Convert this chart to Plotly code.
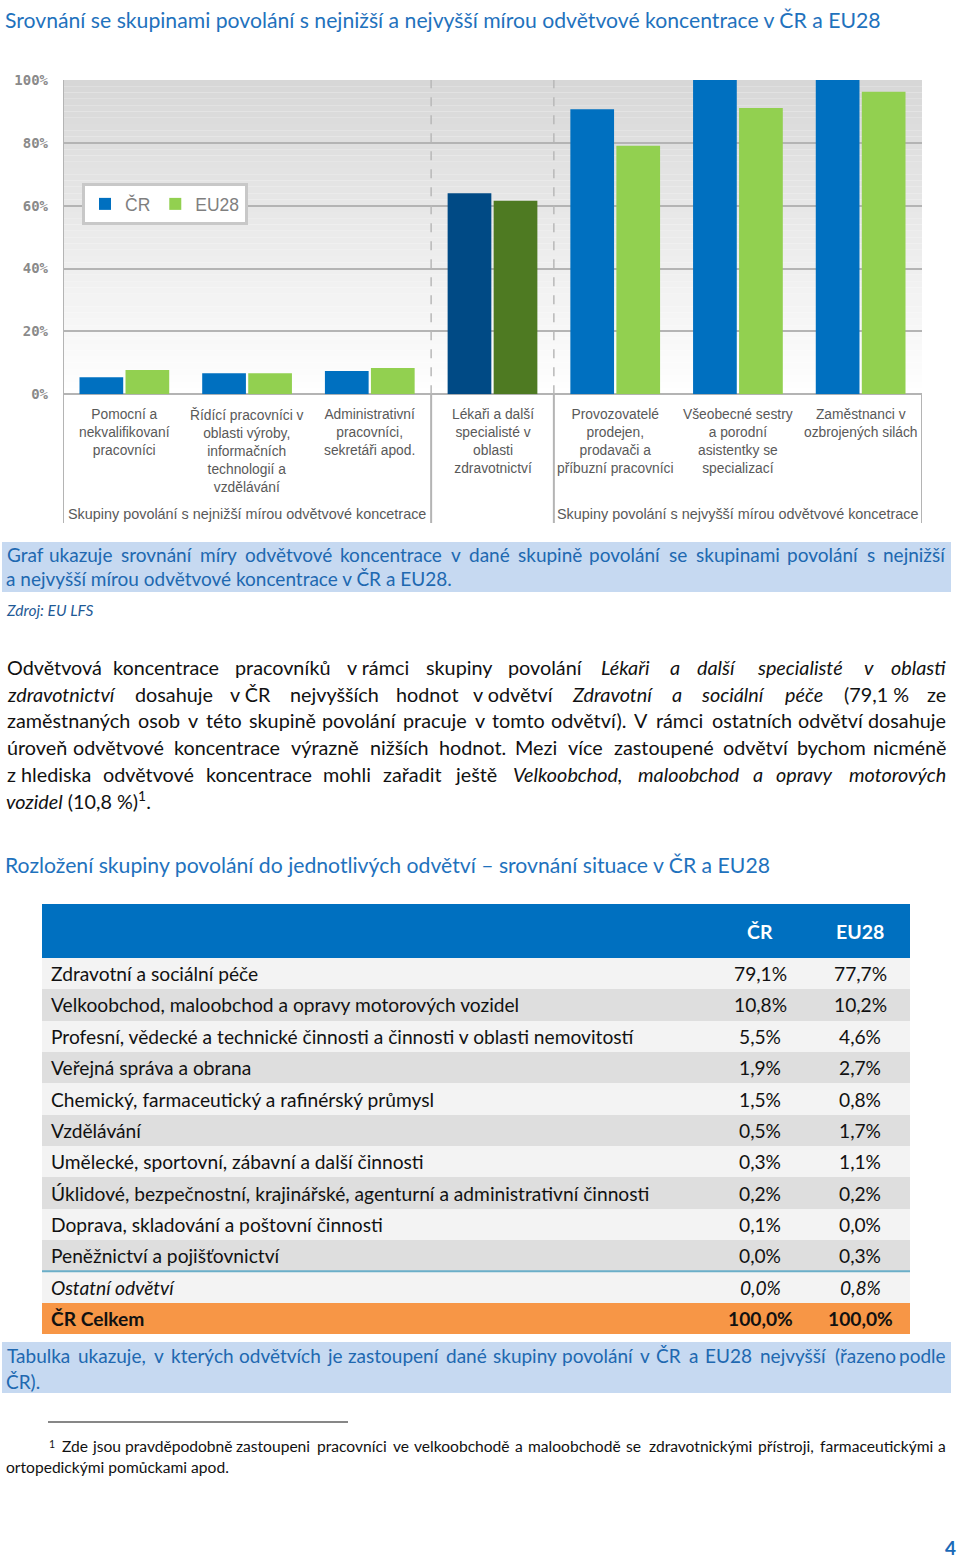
import unicodedata
import plotly.graph_objects as go

W, H = 960, 1559


def px(x):
    return x / W


def py(y):
    return 1 - y / H


# ---------------- chart data ----------------
categories = [
    "Pomocní a nekvalifikovaní pracovníci",
    "Řídící pracovníci v oblasti výroby, informačních technologií a vzdělávání",
    "Administrativní pracovníci, sekretáři apod.",
    "Lékaři a další specialisté v oblasti zdravotnictví",
    "Provozovatelé prodejen, prodavači a příbuzní pracovníci",
    "Všeobecné sestry a porodní asistentky se specializací",
    "Zaměstnanci v ozbrojených silách",
]
category_labels = [
    "Pomocní a<br>nekvalifikovaní<br>pracovníci",
    "Řídící pracovníci v<br>oblasti výroby,<br>informačních<br>technologií a<br>vzdělávání",
    "Administrativní<br>pracovníci,<br>sekretáři apod.",
    "Lékaři a další<br>specialisté v<br>oblasti<br>zdravotnictví",
    "Provozovatelé<br>prodejen,<br>prodavači a<br>příbuzní pracovníci",
    "Všeobecné sestry<br>a porodní<br>asistentky se<br>specializací",
    "Zaměstnanci v<br>ozbrojených silách",
]
cr_values = [5.4, 6.7, 7.4, 64.0, 90.7, 100.0, 100.0]
eu_values = [7.7, 6.7, 8.4, 61.6, 79.1, 91.1, 96.3]
y_ticks = [0, 20, 40, 60, 80, 100]
y_tick_labels = ["0%", "20%", "40%", "60%", "80%", "100%"]
group_labels = [
    "Skupiny povolání s nejnižší mírou odvětvové koncetrace",
    "Skupiny povolání s nejvyšší mírou odvětvové koncetrace",
]
group_centers = [1, 5]
highlight_index = 3

# ---------------- table data ----------------
sectors = [
    "Zdravotní a sociální péče",
    "Velkoobchod, maloobchod a opravy motorových vozidel",
    "Profesní, vědecké a technické činnosti a činnosti v oblasti nemovitostí",
    "Veřejná správa a obrana",
    "Chemický, farmaceutický a rafinérský průmysl",
    "Vzdělávání",
    "Umělecké, sportovní, zábavní a další činnosti",
    "Úklidové, bezpečnostní, krajinářské, agenturní a administrativní činnosti",
    "Doprava, skladování a poštovní činnosti",
    "Peněžnictví a pojišťovnictví",
    "Ostatní odvětví",
    "ČR Celkem",
]
sector_cr = [79.1, 10.8, 5.5, 1.9, 1.5, 0.5, 0.3, 0.2, 0.1, 0.0, 0.0, 100.0]
sector_eu = [77.7, 10.2, 4.6, 2.7, 0.8, 1.7, 1.1, 0.2, 0.0, 0.3, 0.8, 100.0]
table_header = ["", "ČR", "EU28"]
column_widths = [668, 100, 100]

# ---------------- texts ----------------
title_text = "Srovnání se skupinami povolání s nejnižší a nejvyšší mírou odvětvové koncentrace v ČR a EU28"
caption1 = [
    "Graf ukazuje srovnání míry odvětvové koncentrace v dané skupině povolání se skupinami povolání s nejnižší",
    "a nejvyšší mírou odvětvové koncentrace v ČR a EU28.",
]
source_text = "Zdroj: EU LFS"
paragraph = [
    "Odvětvová koncentrace pracovníků v~rámci skupiny povolání *Lékaři *a *další *specialisté *v *oblasti",
    "*zdravotnictví dosahuje v~ČR nejvyšších hodnot v~odvětví *Zdravotní *a *sociální *péče (79,1~% ze",
    "zaměstnaných osob v této skupině povolání pracuje v tomto odvětví). V rámci ostatních odvětví dosahuje",
    "úroveň odvětvové koncentrace výrazně nižších hodnot. Mezi více zastoupené odvětví bychom nicméně",
    "z~hlediska odvětvové koncentrace mohli zařadit ještě *Velkoobchod, *maloobchod *a *opravy *motorových",
]
paragraph_last = "<i>vozidel</i> (10,8 %)<sup>1</sup>."
heading2 = "Rozložení skupiny povolání do jednotlivých odvětví – srovnání situace v ČR a EU28"
caption2 = [
    "Tabulka ukazuje, v kterých odvětvích je zastoupení dané skupiny povolání v ČR a EU28 nejvyšší (řazeno podle",
    "ČR).",
]
footnote = [
    "Zde jsou pravděpodobně zastoupeni pracovníci ve velkoobchodě a maloobchodě se zdravotnickými přístroji, farmaceutickými a",
    "ortopedickými pomůckami apod.",
]
page_number = "4"

# ---------------- styles ----------------
BLUE = "#0070c0"
GREEN = "#92d050"
DARK_BLUE = "#004a85"
DARK_GREEN = "#4e7a22"
TEXT_FONT = "Lato"
CHART_FONT = "Liberation Sans"
TITLE_BLUE = "#1f72bd"
CAPTION_BLUE = "#2068b0"
GRID = "#b4b4b4"
LABEL_GRAY = "#595959"
ROW_LIGHT = "#f3f3f3"
ROW_GRAY = "#dedede"
ROW_TOTAL = "#f79646"

fig = go.Figure()

cr_colors = [DARK_BLUE if i == highlight_index else BLUE for i in range(len(categories))]
eu_colors = [DARK_GREEN if i == highlight_index else GREEN for i in range(len(categories))]

fig.add_trace(go.Bar(x=categories, y=cr_values, name="ČR", marker=dict(color=cr_colors, line=dict(width=0)),
                     hoverinfo="skip"))
fig.add_trace(go.Bar(x=categories, y=eu_values, name="EU28", marker=dict(color=eu_colors, line=dict(width=0)),
                     hoverinfo="skip"))

shapes = []
# gradient plot background
n_strips = 50
for i in range(n_strips):
    y0 = 100 * i / n_strips
    y1 = 100 * (i + 1) / n_strips
    t = (i + 0.5) / n_strips
    v = int(round(255 - (255 - 215) * t))
    shapes.append(dict(type="rect", xref="x domain", yref="y", x0=0, x1=1, y0=y0, y1=y1,
                       fillcolor=f"rgb({v},{v},{v})", line=dict(width=0), layer="below"))

# category box lines
bottom_y = py(523)
axis_top = py(80)
axis_zero = py(394.3)
shapes.append(dict(type="line", xref="x", yref="paper", x0=-0.5, x1=-0.5, y0=bottom_y, y1=axis_top,
                   line=dict(color=GRID, width=2), layer="above"))
shapes.append(dict(type="line", xref="x", yref="paper", x0=6.5, x1=6.5, y0=bottom_y, y1=axis_zero,
                   line=dict(color=GRID, width=2), layer="above"))
for xs in (2.5, 3.5):
    shapes.append(dict(type="line", xref="x", yref="y", x0=xs, x1=xs, y0=0, y1=100,
                       line=dict(color="#b8b8b8", width=1.5, dash="dash"), layer="above"))
    shapes.append(dict(type="line", xref="x", yref="paper", x0=xs, x1=xs, y0=bottom_y, y1=axis_zero,
                       line=dict(color=GRID, width=2), layer="above"))

annotations = []
for cat, lab in zip(categories, category_labels):
    annotations.append(dict(x=cat, xref="x", y=py(405), yref="paper", text=lab, showarrow=False,
                            xanchor="center", yanchor="top", align="center",
                            font=dict(family=CHART_FONT, size=13.8, color=LABEL_GRAY)))
for gc, gl in zip(group_centers, group_labels):
    annotations.append(dict(x=gc, xref="x", y=py(514), yref="paper", text=gl, showarrow=False,
                            xanchor="center", yanchor="middle",
                            font=dict(family=CHART_FONT, size=14.4, color=LABEL_GRAY)))


# ---------------- text helpers ----------------
def _cw(c):
    b = unicodedata.normalize("NFD", c)[0]
    if b in "ijlI.,;:!|'`": return 0.24
    if b in "frt()[]-/": return 0.34
    if b == " ": return 0.25
    if b in "mw": return 0.80
    if b in "MW": return 0.88
    if b == "%": return 0.78
    if b.isdigit(): return 0.58
    if b.isupper(): return 0.64
    return 0.52


def word_width(word, size):
    return sum(_cw(c) for c in word) * size


def justified(line, x0, x1, y, size, color):
    toks = []
    for tok in line.split(" "):
        italic = tok.startswith("*")
        tok = tok.lstrip("*").replace("~", " ")
        toks.append((tok, italic))
    widths = [word_width(t, size) for t, _ in toks]
    gap = (x1 - x0 - sum(widths)) / (len(toks) - 1)
    pos = x0
    n = len(toks)
    for i, ((t, it), w) in enumerate(zip(toks, widths)):
        txt = f"<i>{t}</i>" if it else t
        if i == 0:
            x, anc = x0, "left"
        elif i == n - 1:
            x, anc = x1, "right"
        else:
            x, anc = pos + w / 2, "center"
        annotations.append(dict(x=px(x), xref="paper", y=py(y), yref="paper", text=txt, showarrow=False,
                                xanchor=anc, yanchor="middle",
                                font=dict(family=TEXT_FONT, size=size, color=color)))
        pos += w + gap


def plain(text, x, y, size, color, anchor="left", family=TEXT_FONT, weight="normal"):
    annotations.append(dict(x=px(x), xref="paper", y=py(y), yref="paper", text=text, showarrow=False,
                            xanchor=anchor, yanchor="middle",
                            font=dict(family=family, size=size, color=color, weight=weight)))


# title
plain(title_text, 3, 20, 21.2, TITLE_BLUE)

# caption 1
shapes.append(dict(type="rect", xref="paper", yref="paper", x0=px(2), x1=px(951), y0=py(592), y1=py(542),
                   fillcolor="#c6d9f1", line=dict(width=0), layer="below"))
justified(caption1[0], 5, 948, 554, 19, CAPTION_BLUE)
plain(caption1[1], 4, 579, 19, CAPTION_BLUE)
plain(f"<i>{source_text}</i>", 4, 610, 15.5, "#1f5a96")

# paragraph
para_y = [667, 694, 720, 747, 774]
for line, yy in zip(paragraph, para_y):
    justified(line, 5, 948, yy, 19.8, "#111111")
plain(paragraph_last, 4, 800, 19.8, "#111111")

# heading 2
plain(heading2, 3, 865, 21.2, TITLE_BLUE)

# ---------------- table (heatmap rows on its own axes) ----------------
def fmt(v):
    return f"{v:.1f}".replace(".", ",") + "%"

n_rows = len(sectors)
row_codes = []
for i in range(n_rows):
    if i == n_rows - 1:
        row_codes.append(2)
    elif i == n_rows - 2 or i % 2 == 0:
        row_codes.append(0)
    else:
        row_codes.append(1)

col_edges = [0]
for cw in column_widths:
    col_edges.append(col_edges[-1] + cw)
col_centers = [(a + b) / 2 for a, b in zip(col_edges[:-1], col_edges[1:])]

fig.add_trace(go.Heatmap(
    z=[[c] for c in row_codes], x=[col_edges[0], col_edges[-1]], y=list(range(n_rows)),
    colorscale=[[0, ROW_LIGHT], [0.5, ROW_GRAY], [1, ROW_TOTAL]], zmin=0, zmax=2,
    showscale=False, hoverinfo="skip", xaxis="x2", yaxis="y2",
))

for i, (s, a, b) in enumerate(zip(sectors, sector_cr, sector_eu)):
    texts = [s, fmt(a), fmt(b)]
    if i == n_rows - 1:
        texts = [f"<b>{t}</b>" for t in texts]
    elif i == n_rows - 2:
        texts = [f"<i>{t}</i>" for t in texts]
    annotations.append(dict(x=col_edges[0], xref="x2", y=i, yref="y2", text=texts[0], showarrow=False,
                            xanchor="left", xshift=7, yanchor="middle",
                            font=dict(family=TEXT_FONT, size=19.2, color="#111111")))
    for ci in (1, 2):
        annotations.append(dict(x=col_centers[ci], xref="x2", y=i, yref="y2", text=texts[ci], showarrow=False,
                                xanchor="center", yanchor="middle",
                                font=dict(family=TEXT_FONT, size=19.2, color="#111111")))

# header band
shapes.append(dict(type="rect", xref="x2 domain", yref="paper", x0=0, x1=1, y0=py(958), y1=py(904),
                   fillcolor=BLUE, line=dict(width=0), layer="above"))
for ci, htxt in enumerate(table_header):
    if htxt:
        annotations.append(dict(x=col_centers[ci], xref="x2", y=py(931), yref="paper", text=f"<b>{htxt}</b>",
                                showarrow=False, xanchor="center", yanchor="middle",
                                font=dict(family=TEXT_FONT, size=19.5, color="white")))
# teal separator above "Ostatní odvětví"
shapes.append(dict(type="line", xref="x2 domain", yref="y2", x0=0, x1=1, y0=n_rows - 2.5, y1=n_rows - 2.5,
                   line=dict(color="#6aaec8", width=2), layer="above"))

# caption 2
shapes.append(dict(type="rect", xref="paper", yref="paper", x0=px(2), x1=px(951), y0=py(1393), y1=py(1342),
                   fillcolor="#c6d9f1", line=dict(width=0), layer="below"))
justified(caption2[0], 5, 948, 1355, 19, CAPTION_BLUE)
plain(caption2[1], 4, 1381, 19, CAPTION_BLUE)

# footnote
shapes.append(dict(type="line", xref="paper", yref="paper", x0=px(48), x1=px(348), y0=py(1422), y1=py(1422),
                   line=dict(color="#111111", width=1.2), layer="above"))
plain("<sup>1</sup>", 47, 1444, 15, "#111111")
justified(footnote[0], 60, 948, 1446, 15.6, "#111111")
plain(footnote[1], 4, 1467, 15.6, "#111111")

# page number
plain(page_number, 950, 1547, 19, "#1a6ab8", anchor="center", weight="bold")

fig.update_layout(
    width=W, height=H, autosize=False,
    margin=dict(l=0, r=0, t=0, b=0, pad=0, autoexpand=False),
    paper_bgcolor="white", plot_bgcolor="rgba(0,0,0,0)",
    barmode="group", bargap=0.25, bargroupgap=0.05,
    shapes=shapes, annotations=annotations,
    showlegend=True,
    legend=dict(orientation="h", x=px(82), y=py(183), xanchor="left", yanchor="top",
                bgcolor="white", bordercolor="#c8c8c8", borderwidth=3,
                font=dict(family=CHART_FONT, size=17.5, color="#7f7f7f"),
                itemwidth=30, itemclick=False, itemdoubleclick=False),
    xaxis=dict(domain=[px(63), px(922)], type="category", range=[-0.5, 6.5], automargin=False,
               showticklabels=False, showgrid=False, zeroline=False, showline=False, ticks=""),
    yaxis=dict(domain=[py(394.3), py(80)], range=[0, 100], tickvals=y_ticks, ticktext=y_tick_labels,
               automargin=False,
               showgrid=True, gridcolor=GRID, gridwidth=2, zeroline=True, zerolinecolor=GRID, zerolinewidth=2,
               showline=False, ticks="", ticklabelstandoff=14,
               tickfont=dict(family="DejaVu Sans Mono", size=14, color="#8a8a8a", weight="bold")),
    xaxis2=dict(domain=[px(42), px(910)], range=[col_edges[0], col_edges[-1]], anchor="y2", automargin=False,
                visible=False, showgrid=False, zeroline=False, fixedrange=True),
    yaxis2=dict(domain=[py(1334), py(958)], range=[n_rows - 0.5, -0.5], anchor="x2", automargin=False,
                visible=False, showgrid=False, zeroline=False, fixedrange=True),
)

fig.write_html(
    "out.html",
    config={"displayModeBar": False, "responsive": False},
    post_script="document.body.style.margin='0';document.body.style.padding='0';document.body.style.overflow='hidden';",
)
